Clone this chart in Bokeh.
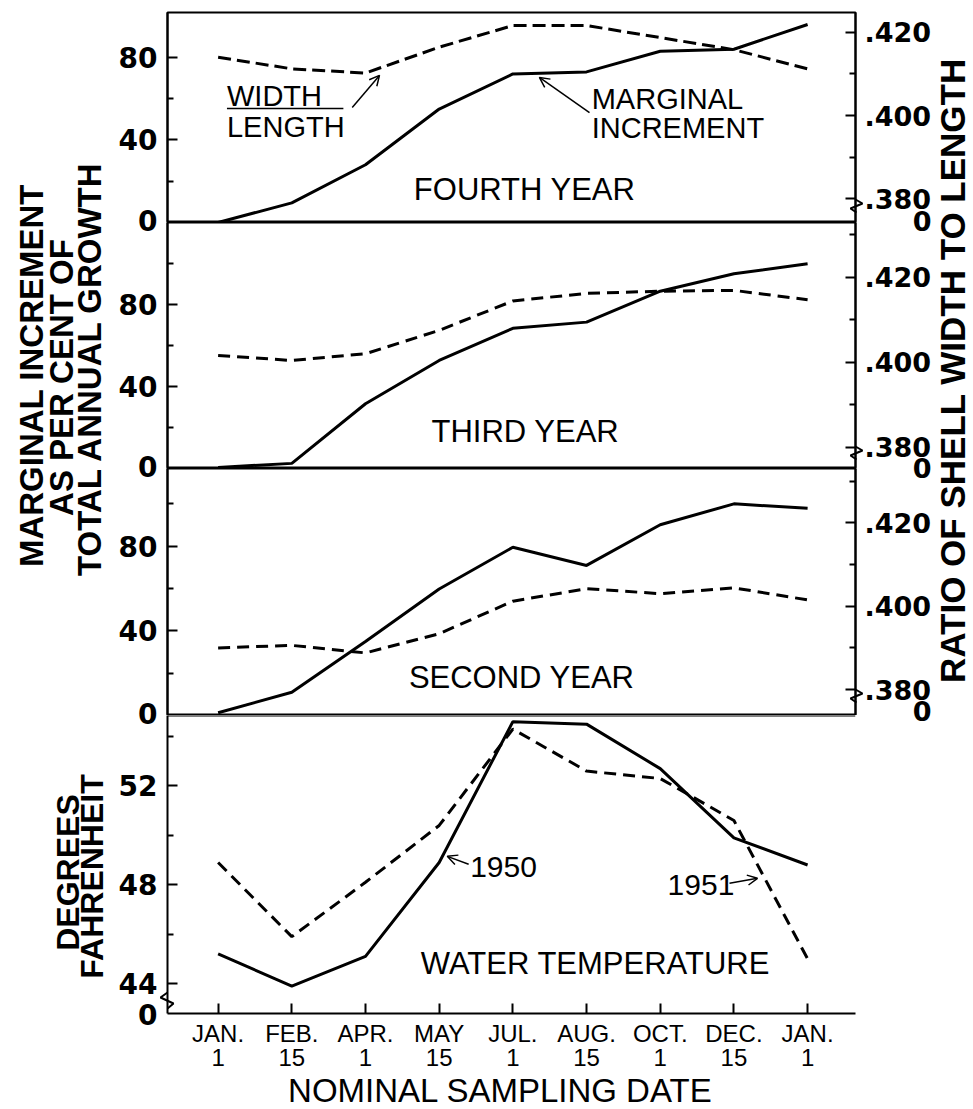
from math import pi
from bokeh.plotting import figure
from bokeh.models import (Range1d, LinearAxis, FixedTicker, CustomJSTickFormatter,
                          Arrow, OpenHead, Span, GridBox)
from bokeh.layouts import column
from bokeh.core.properties import value
from bokeh.embed import file_html
from bokeh.resources import INLINE

# ---------------- data ----------------
dates = ["JAN.\n1", "FEB.\n15", "APR.\n1", "MAY\n15", "JUL.\n1",
         "AUG.\n15", "OCT.\n1", "DEC.\n15", "JAN.\n1"]
idx = list(range(len(dates)))

inc_4 = [0, 9.5, 28, 55, 72, 73, 83, 84, 96]
ratio_4 = [0.4140, 0.4112, 0.4102, 0.4164, 0.4216, 0.4216, 0.4187, 0.4158, 0.4112]
inc_3 = [0.5, 2.5, 31.6, 52.7, 68.4, 71.4, 86.5, 95.0, 99.9]
ratio_3 = [0.4016, 0.4004, 0.4020, 0.4075, 0.4144, 0.4162, 0.4167, 0.4169, 0.4147]
inc_2 = [1.3, 11.0, 35.0, 59.8, 79.5, 70.9, 90.1, 100.0, 97.9]
ratio_2 = [0.3900, 0.3906, 0.3888, 0.3934, 0.4012, 0.4042, 0.4030, 0.4044, 0.4015]
temp_1950 = [45.2, 43.9, 45.1, 48.9, 54.6, 54.5, 52.7, 49.9, 48.8]
temp_1951 = [48.9, 45.9, 48.1, 50.4, 54.3, 52.6, 52.3, 50.6, 45.0]

inc_ticks = [40, 80]
inc_minor = [20, 60, 100]
ratio_ticks = [0.38, 0.40, 0.42]
ratio_minor = [0.39, 0.41, 0.43]
temp_ticks = [44, 48, 52]
temp_minor = [46, 50, 54]

# ---------------- styling helpers ----------------
TXT = "Liberation Sans"
NUM = "DejaVu Sans"
WW, HH = 973, 1109
XR = Range1d(-0.687, 8.65)


def style_axis(ax, size, standoff=10):
    ax.axis_line_width = 2
    ax.axis_line_color = "black"
    ax.major_tick_in = 10
    ax.major_tick_out = 0
    ax.minor_tick_in = 6
    ax.minor_tick_out = 0
    ax.major_tick_line_width = 2
    ax.minor_tick_line_width = 2
    ax.major_tick_line_color = "black"
    ax.minor_tick_line_color = "black"
    ax.major_label_text_font = NUM
    ax.major_label_text_font_size = size
    ax.major_label_text_font_style = "bold"
    ax.major_label_text_color = "black"
    ax.major_label_standoff = standoff


def make_panel(h, top, bottom, yr):
    p = figure(width=WW, height=h, x_range=XR, y_range=Range1d(*yr),
               min_border_left=167, min_border_right=118,
               min_border_top=top, min_border_bottom=bottom,
               toolbar_location=None, output_backend="svg",
               x_axis_location=None, y_axis_location=None)
    p.xgrid.visible = False
    p.ygrid.visible = False
    p.background_fill_color = "white"
    p.border_fill_color = "white"
    p.outline_line_color = "black"
    p.outline_line_width = 2
    return p


def add_left(p, ticks, minor):
    ax = LinearAxis(ticker=FixedTicker(ticks=ticks, minor_ticks=minor))
    style_axis(ax, "28px", 10)
    p.add_layout(ax, "left")
    return ax


def add_right(p, rr):
    p.extra_y_ranges = {"r": Range1d(*rr)}
    ax = LinearAxis(y_range_name="r",
                    ticker=FixedTicker(ticks=ratio_ticks, minor_ticks=ratio_minor),
                    formatter=CustomJSTickFormatter(code="return tick.toFixed(3).replace(/^0/, '');"))
    style_axis(ax, "27px", 9)
    p.add_layout(ax, "right")
    return ax


def panel_text(p, x, y, t, size="31px", align="center"):
    p.text(x=[x], y=[y], text=[t], text_align=align, text_baseline="middle",
           text_font=value(TXT), text_font_size=value(size), text_color="black")


def arrow(p, xs, ys, xe, ye):
    p.add_layout(Arrow(end=OpenHead(size=10, line_width=1.5, line_color="black"),
                       x_start=xs, y_start=ys, x_end=xe, y_end=ye,
                       line_width=1.5, line_color="black"))


# ---------------- panel 1: fourth year ----------------
r1 = (0.37431, 0.42473)
p1 = make_panel(222, 12, 0, (0, 101.8))
add_left(p1, inc_ticks, inc_minor[:2])
add_right(p1, r1)
p1.line(idx, inc_4, line_width=3, color="black")
p1.line(idx, ratio_4, y_range_name="r", line_width=3, color="black", line_dash="13 6")
panel_text(p1, 4.16, 16, "FOURTH YEAR")
panel_text(p1, 0.12, 61.1, "WIDTH", "29px", "left")
panel_text(p1, 0.12, 46.1, "LENGTH", "29px", "left")
p1.segment(x0=[0.12], y0=[55.3], x1=[1.70], y1=[55.3], line_width=1.5, color="black")
panel_text(p1, 5.07, 60.1, "MARGINAL", "29px", "left")
panel_text(p1, 5.07, 45.8, "INCREMENT", "29px", "left")
arrow(p1, 1.82, 55.8, 2.19, 71.3)
arrow(p1, 5.04, 53.3, 4.36, 70.3)

# ---------------- panel 2: third year ----------------
r2 = (0.37499, 0.43287)
p2 = make_panel(246, 0, 0, (0, 120))
add_left(p2, inc_ticks, inc_minor)
add_right(p2, r2)
p2.line(idx, inc_3, line_width=3, color="black")
p2.line(idx, ratio_3, y_range_name="r", line_width=3, color="black", line_dash="12 7")
panel_text(p2, 4.17, 18.0, "THIRD YEAR")

# ---------------- panel 3: second year ----------------
r3 = (0.37379, 0.43302)
p3 = make_panel(247, 0, 0, (0, 116.7))
add_left(p3, inc_ticks, inc_minor)
add_right(p3, r3)
p3.line(idx, inc_2, line_width=3, color="black")
p3.line(idx, ratio_2, y_range_name="r", line_width=3, color="black", line_dash="12 7")
panel_text(p3, 4.12, 18.0, "SECOND YEAR")

# ---------------- panel 4: water temperature ----------------
t_lo, t_hi = 42.79, 54.85
p4 = make_panel(394, 0, 96, (t_lo, t_hi))
p4.outline_line_color = None
add_left(p4, temp_ticks, temp_minor)
xax = LinearAxis(ticker=FixedTicker(ticks=idx),
                 major_label_overrides={i: d for i, d in zip(idx, dates)})
style_axis(xax, "24px", 6)
xax.major_label_text_font = TXT
xax.major_label_text_font_style = "normal"
xax.major_label_text_line_height = 0.9
p4.add_layout(xax, "below")
p4.add_layout(Span(location=t_hi, dimension="width", line_width=2, line_color="black"))
p4.line(idx, temp_1950, line_width=3, color="black")
p4.line(idx, temp_1951, line_width=3, color="black", line_dash="12 7")
panel_text(p4, 5.12, 44.8, "WATER TEMPERATURE")
panel_text(p4, 3.42, 48.71, "1950", "30px", "left")
panel_text(p4, 6.10, 47.98, "1951", "30px", "left")
arrow(p4, 3.40, 48.83, 3.11, 49.15)
arrow(p4, 6.94, 48.06, 7.32, 48.26)

panels = column(p1, p2, p3, p4, spacing=0)

# ---------------- transparent overlay with titles and broken-axis marks ----------------
ov = figure(width=WW, height=HH, x_range=Range1d(0, WW), y_range=Range1d(0, HH),
            min_border=0, toolbar_location=None, output_backend="svg",
            x_axis_location=None, y_axis_location=None)
ov.xgrid.visible = False
ov.ygrid.visible = False
ov.outline_line_color = None
ov.background_fill_color = None
ov.border_fill_color = None


def Y(py):
    return HH - py


def ov_text(xs, ys, texts, font, size, style="normal", angle=0.0, align="center",
            baseline="middle"):
    ov.text(x=xs, y=[Y(v) for v in ys], text=texts, angle=angle,
            text_align=align, text_baseline=baseline,
            text_font=value(font), text_font_size=value(size),
            text_font_style=style, text_color="black")


ov_text([31, 61, 89], [375, 377, 368],
        ["MARGINAL INCREMENT", "AS PER CENT OF", "TOTAL ANNUAL GROWTH"],
        TXT, "33px", "bold", pi / 2)
ov_text([67, 91], [872, 876], ["DEGREES", "FAHRENHEIT"], TXT, "32px", "bold", pi / 2)
ov_text([952], [370], ["RATIO OF SHELL WIDTH TO LENGTH"], TXT, "35px", "bold", pi / 2)
ov_text([500], [1090], ["NOMINAL SAMPLING DATE"], TXT, "33px")
# zero labels of the broken axes
ov_text([157, 157, 157], [220, 466, 713], ["0", "0", "0"], NUM, "28px", "bold",
        align="right", baseline="alphabetic")
ov_text([157], [1014], ["0"], NUM, "28px", "bold", align="right")
ov_text([931, 931, 931], [220, 467, 710], ["0", "0", "0"], NUM, "27px", "bold",
        align="right")
# break marks
for yb in (199, 446, 689):
    ov.line([855, 862, 850, 856], [Y(yb), Y(yb + 4), Y(yb + 9), Y(yb + 13)],
            line_width=2, color="black")
ov.line([167, 160, 173, 167], [Y(992), Y(997), Y(1003), Y(1008)], line_width=2,
        color="black")

layout = GridBox(children=[(panels, 0, 0), (ov, 0, 0)], spacing=0)
open("out.html", "w").write(file_html(layout, INLINE))
